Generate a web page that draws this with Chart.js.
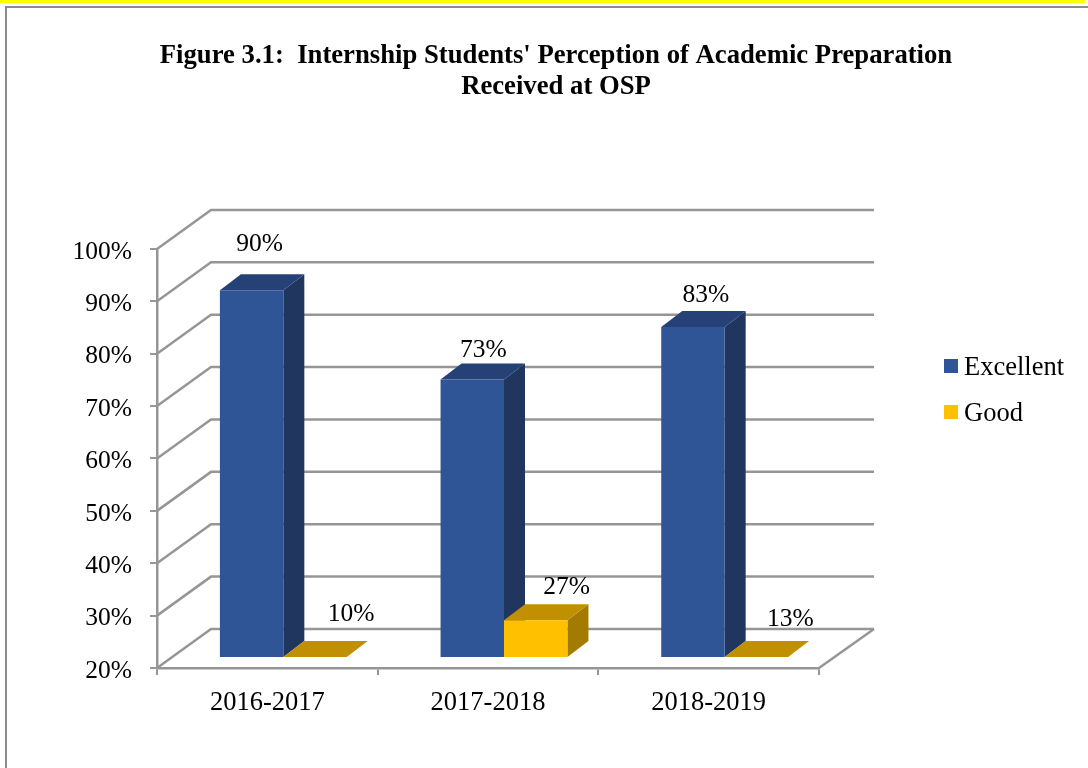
<!DOCTYPE html>
<html>
<head>
<meta charset="utf-8">
<title>Figure 3.1</title>
<script src="https://cdn.jsdelivr.net/npm/chart.js@4"></script>
<style>
    html, body { margin: 0; padding: 0; background: #fff; }
    #page { position: relative; width: 1088px; height: 768px; overflow: hidden; }
    #topStrip { position: absolute; left: 0; top: 0; width: 1085px; height: 3px; background: #ffff00; }
    #frame { position: absolute; left: 5px; top: 6px; width: 1200px; height: 900px; border: 2px solid #8c8c8c; }
    canvas { position: absolute; left: 0; top: 0; }
</style>
</head>
<body>
<div id="page">
    <div id="topStrip"></div>
    <div id="frame"></div>
    <canvas id="internshipChart" width="1088" height="768"></canvas>
</div>
<script>
const years = ['2016-2017', '2017-2018', '2018-2019'];
const excellent = [90, 73, 83];
const good = [10, 27, 13];
const titleLines = ["Figure 3.1:  Internship Students' Perception of Academic Preparation", 'Received at OSP'];

const serif = '"Liberation Serif", "Times New Roman", serif';
const valueSize = 25.5;
const nameSize = 26.5;
const gridColor = '#969696';

// depth of the floor and of the bars, in pixels
const floorDepth = { x: 54, y: 39 };
const barShift = { x: 16, y: 11 };
const barDepth = { x: 21, y: 16 };

// hand placed data labels: dx from the bar centre, dy above the back of the top face
const labelNudge = [
    [{ dx: 8, dy: 30 }, { dx: 11, dy: 13 }, { dx: 13, dy: 16 }],
    [{ dx: 36, dy: 27 }, { dx: 31, dy: 17 }, { dx: 34, dy: 22 }]
];

const faces = [
    { front: '#2f5597', side: '#20365f', top: '#254175' },
    { front: '#ffc000', side: '#a27b00', top: '#c09000' }
];

function polygon(ctx, color, points) {
    ctx.fillStyle = color;
    ctx.beginPath();
    points.forEach((p, i) => i === 0 ? ctx.moveTo(p[0], p[1]) : ctx.lineTo(p[0], p[1]));
    ctx.closePath();
    ctx.fill();
}

// back wall and floor lines behind the bars
const wallPlugin = {
    id: 'wall',
    beforeDatasetsDraw(chart) {
        const { ctx, chartArea, scales } = chart;
        const { left, right, bottom } = chartArea;
        ctx.save();
        ctx.strokeStyle = gridColor;
        ctx.lineWidth = 2.5;
        scales.y.ticks.forEach(tick => {
            const y = scales.y.getPixelForValue(tick.value);
            ctx.beginPath();
            ctx.moveTo(left, y);
            ctx.lineTo(left + floorDepth.x, y - floorDepth.y);
            ctx.lineTo(right + floorDepth.x + 1, y - floorDepth.y);
            ctx.stroke();
        });
        ctx.beginPath();
        ctx.moveTo(right, bottom);
        ctx.lineTo(right + floorDepth.x + 1, bottom - floorDepth.y);
        ctx.stroke();
        ctx.restore();
    }
};

// the bars get their front, side and top faces from the bar elements' geometry
const boxBarsPlugin = {
    id: 'boxBars',
    beforeDatasetDraw() {
        return false;
    },
    afterDatasetsDraw(chart) {
        const ctx = chart.ctx;
        const floor = chart.chartArea.bottom;
        ctx.save();
        chart.data.datasets.forEach((dataset, i) => {
            chart.getDatasetMeta(i).data.forEach(bar => {
                const p = bar.getProps(['x', 'y', 'width'], true);
                const x0 = p.x - p.width / 2 + barShift.x;
                const x1 = p.x + p.width / 2 + barShift.x;
                const yBase = floor - barShift.y;
                // values below the axis minimum lie flat on the floor
                const yTop = Math.min(p.y, floor) - barShift.y;
                const c = faces[i];

                polygon(ctx, c.side, [[x1, yBase], [x1 + barDepth.x, yBase - barDepth.y], [x1 + barDepth.x, yTop - barDepth.y], [x1, yTop]]);
                polygon(ctx, c.top, [[x0, yTop], [x1, yTop], [x1 + barDepth.x, yTop - barDepth.y], [x0 + barDepth.x, yTop - barDepth.y]]);
                if (yBase > yTop) {
                    polygon(ctx, c.front, [[x0, yTop], [x1, yTop], [x1, yBase], [x0, yBase]]);
                }
            });
        });

        // data labels go on last so no bar covers them
        ctx.fillStyle = '#000';
        ctx.font = valueSize + 'px ' + serif;
        ctx.textAlign = 'center';
        ctx.textBaseline = 'middle';
        chart.data.datasets.forEach((dataset, i) => {
            chart.getDatasetMeta(i).data.forEach((bar, j) => {
                const p = bar.getProps(['x', 'y'], true);
                const yTop = Math.min(p.y, floor) - barShift.y - barDepth.y;
                const nudge = labelNudge[i][j];
                ctx.fillText(dataset.data[j] + '%', p.x + barShift.x + nudge.dx, yTop - nudge.dy);
            });
        });
        ctx.restore();
    }
};

const legendPlugin = {
    id: 'sideLegend',
    afterDraw(chart) {
        const ctx = chart.ctx;
        ctx.save();
        ctx.font = nameSize + 'px ' + serif;
        ctx.textAlign = 'left';
        ctx.textBaseline = 'middle';
        chart.data.datasets.forEach((dataset, i) => {
            const y = 366 + i * 46;
            ctx.fillStyle = dataset.backgroundColor;
            ctx.fillRect(944, y - 7, 14, 14);
            ctx.fillStyle = '#000';
            ctx.fillText(dataset.label, 964, y + 2);
        });
        ctx.restore();
    }
};

const ctx = document.getElementById('internshipChart').getContext('2d');
new Chart(ctx, {
    type: 'bar',
    data: {
        labels: years,
        datasets: [
            { label: 'Excellent', data: excellent, backgroundColor: faces[0].front },
            { label: 'Good', data: good, backgroundColor: faces[1].front }
        ]
    },
    options: {
        responsive: false,
        animation: false,
        devicePixelRatio: 1,
        categoryPercentage: 0.575,
        barPercentage: 1,
        layout: { padding: { left: 24, right: 0, top: 0, bottom: 0 } },
        plugins: {
            legend: { display: false },
            tooltip: { enabled: false },
            title: {
                display: true,
                text: titleLines,
                color: '#000',
                font: { family: serif, size: 26.7, weight: 'bold', lineHeight: 1.17 },
                padding: { top: 40, bottom: 146.5 }
            }
        },
        scales: {
            x: {
                grid: { drawOnChartArea: false, offset: true, color: gridColor, lineWidth: 2, tickLength: 7 },
                border: { color: gridColor, width: 2.5 },
                ticks: { color: '#000', font: { family: serif, size: nameSize }, padding: 12, maxRotation: 0 },
                afterFit(scale) { scale.height = 100; }
            },
            y: {
                min: 20,
                max: 100,
                grid: { drawOnChartArea: false, color: gridColor, lineWidth: 2, tickLength: 7 },
                border: { color: gridColor, width: 2.5 },
                ticks: { stepSize: 10, color: '#000', font: { family: serif, size: valueSize }, padding: 18, labelOffset: 3, callback: value => value + '%' },
                afterFit(scale) { scale.width = 133; }
            },
            // empty axis that keeps the room for the legend
            legendRoom: {
                axis: 'y',
                position: 'right',
                min: 0,
                max: 1,
                grid: { display: false },
                border: { display: false },
                ticks: { display: false },
                afterFit(scale) { scale.width = 269; }
            }
        }
    },
    plugins: [wallPlugin, boxBarsPlugin, legendPlugin]
});
</script>
</body>
</html>
